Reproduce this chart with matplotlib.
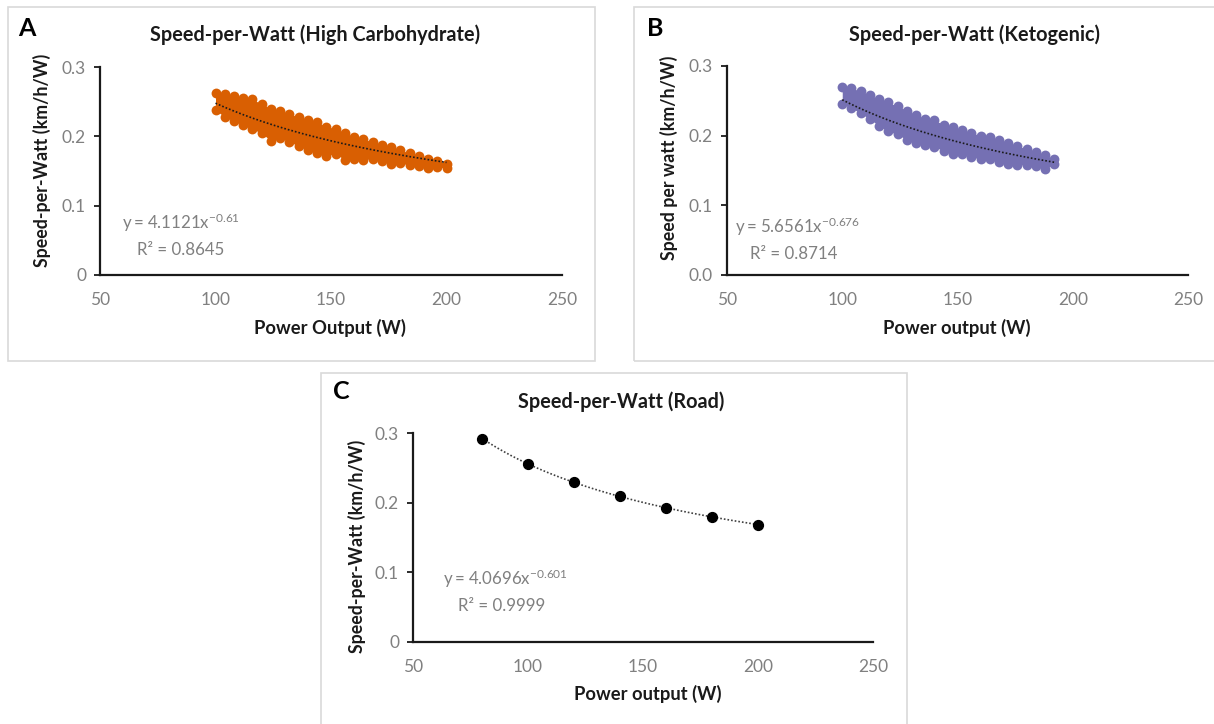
import numpy as np
import matplotlib
matplotlib.use("Agg")
import matplotlib.pyplot as plt
from matplotlib.patches import Rectangle

plt.rcParams['font.family'] = ['Lato', 'DejaVu Sans']

# --- Panel A : High carbohydrate (cloud envelopes)
a_x = [100, 104, 108, 112, 116, 120, 124, 128, 132, 136, 140, 144, 148,
       152, 156, 160, 164, 168, 172, 176, 180, 184, 188, 192, 196, 200]
a_upper = [0.262, 0.261, 0.258, 0.256, 0.254, 0.246, 0.240, 0.236, 0.232,
           0.228, 0.224, 0.220, 0.214, 0.211, 0.205, 0.199, 0.196, 0.192,
           0.188, 0.184, 0.180, 0.176, 0.172, 0.168, 0.165, 0.160]
a_lower = [0.238, 0.228, 0.222, 0.216, 0.210, 0.205, 0.193, 0.198, 0.192,
           0.186, 0.180, 0.176, 0.172, 0.175, 0.166, 0.168, 0.166, 0.168,
           0.164, 0.160, 0.162, 0.158, 0.157, 0.154, 0.156, 0.154]
a_fit = (4.1121, -0.61, 0.8645)

# --- Panel B : Ketogenic
b_x = [100, 104, 108, 112, 116, 120, 124, 128, 132, 136, 140, 144, 148,
       152, 156, 160, 164, 168, 172, 176, 180, 184, 188, 192]
b_upper = [0.270, 0.268, 0.264, 0.258, 0.252, 0.248, 0.242, 0.236, 0.230,
           0.224, 0.222, 0.216, 0.212, 0.208, 0.204, 0.200, 0.198, 0.194,
           0.190, 0.185, 0.181, 0.177, 0.172, 0.166]
b_lower = [0.246, 0.240, 0.232, 0.224, 0.214, 0.206, 0.202, 0.194, 0.190,
           0.186, 0.184, 0.178, 0.174, 0.174, 0.170, 0.166, 0.166, 0.162,
           0.160, 0.158, 0.158, 0.156, 0.152, 0.160]
b_fit = (5.6561, -0.676, 0.8714)

# --- Panel C : Road
c_x = [80, 100, 120, 140, 160, 180, 200]
c_y = [0.291, 0.256, 0.229, 0.209, 0.193, 0.179, 0.168]
c_fit = (4.0696, -0.601, 0.9999)

ORANGE = '#D95F02'
PURPLE = '#7570B3'
GREY = '#808080'
DARK = '#1a1a1a'
W, H = 1214, 724

fig = plt.figure(figsize=(W / 100, H / 100), dpi=100)


def fx(px):
    return px / W


def fy(py):
    return 1 - py / H


def box(x0, y0, x1, y1):
    fig.patches.append(Rectangle((fx(x0), fy(y1)), fx(x1 - x0), (y1 - y0) / H,
                                 transform=fig.transFigure, fill=False,
                                 edgecolor='#d9d9d9', linewidth=1.2))


def style_axes(ax, ylabels):
    ax.set_xlim(50, 250)
    ax.set_ylim(0, 0.3)
    ax.set_xticks([50, 100, 150, 200, 250])
    ax.set_yticks([0, 0.1, 0.2, 0.3])
    ax.set_yticklabels(ylabels)
    for s in ['top', 'right']:
        ax.spines[s].set_visible(False)
    for s in ['left', 'bottom']:
        ax.spines[s].set_linewidth(1.6)
        ax.spines[s].set_color(DARK)
    ax.tick_params(axis='x', length=0, pad=12, labelsize=12.5, labelcolor=GREY)
    ax.tick_params(axis='y', length=4, width=1.3, pad=6, labelsize=12.5,
                   labelcolor=GREY, color=DARK)


def cloud(ax, x, lo, hi, color):
    ax.fill_between(x, lo, hi, color=color, linewidth=0, zorder=2)
    ax.scatter(x, hi, s=50, color=color, linewidths=0, zorder=3)
    ax.scatter(x, lo, s=50, color=color, linewidths=0, zorder=3)


def trend(ax, fit, x0, x1, color=DARK):
    xs = np.linspace(x0, x1, 200)
    ax.plot(xs, fit[0] * xs ** fit[1], color=color, linestyle=(0, (1, 1.2)),
            linewidth=1.2, zorder=4)


def equation(xp, yp, fit):
    fig.text(fx(xp), fy(yp), r'$\mathregular{y = %sx^{%s}}$' % (fit[0], fit[1]),
             fontsize=12.2, color=GREY, va='center')
    fig.text(fx(xp + 15), fy(yp + 27), 'R² = %.4f' % fit[2],
             fontsize=12.2, color=GREY, va='center')


def labels(letter, lpos, title, tpos, ylab, ypos, xlab, xpos):
    fig.text(fx(lpos[0]), fy(lpos[1]), letter, fontsize=18, fontweight='bold',
             ha='center', va='center')
    fig.text(fx(tpos[0]), fy(tpos[1]), title, fontsize=14.3, fontweight='bold',
             ha='center', va='center', color=DARK)
    fig.text(fx(ypos[0]), fy(ypos[1]), ylab, fontsize=12.8, fontweight='bold',
             rotation=90, ha='center', va='center', color=DARK)
    fig.text(fx(xpos[0]), fy(xpos[1]), xlab, fontsize=13.2, fontweight='bold',
             ha='center', va='center', color=DARK)


# panel A
box(8, 7, 595, 361)
axA = fig.add_axes([fx(100), fy(275), fx(562 - 100), (275 - 67) / H])
cloud(axA, a_x, a_lower, a_upper, ORANGE)
trend(axA, a_fit, 100, 200)
style_axes(axA, ['0', '0.1', '0.2', '0.3'])
labels('A', (27, 28), 'Speed-per-Watt (High Carbohydrate)', (315, 35),
       'Speed-per-Watt (km/h/W)', (42, 160), 'Power Output (W)', (330, 328))
equation(122, 223, a_fit)

# panel B
box(634, 7, 1240, 361)
axB = fig.add_axes([fx(727), fy(275), fx(1188 - 727), (275 - 66) / H])
cloud(axB, b_x, b_lower, b_upper, PURPLE)
trend(axB, b_fit, 100, 192)
style_axes(axB, ['0.0', '0.1', '0.2', '0.3'])
labels('B', (655, 28), 'Speed-per-Watt (Ketogenic)', (974, 35),
       'Speed per watt (km/h/W)', (669, 158), 'Power output (W)', (957, 328))
equation(735, 227, b_fit)

# panel C
box(321, 373, 907, 740)
axC = fig.add_axes([fx(413), fy(642), fx(873 - 413), (642 - 433) / H])
trend(axC, c_fit, 80, 200, color='#404040')
axC.scatter(c_x, c_y, s=50, color='black', zorder=5)
style_axes(axC, ['0', '0.1', '0.2', '0.3'])
labels('C', (341, 392), 'Speed-per-Watt (Road)', (621, 402),
       'Speed-per-Watt (km/h/W)', (357, 546), 'Power output (W)', (648, 694))
equation(443, 579, c_fit)

fig.savefig('out.png', dpi=100)
